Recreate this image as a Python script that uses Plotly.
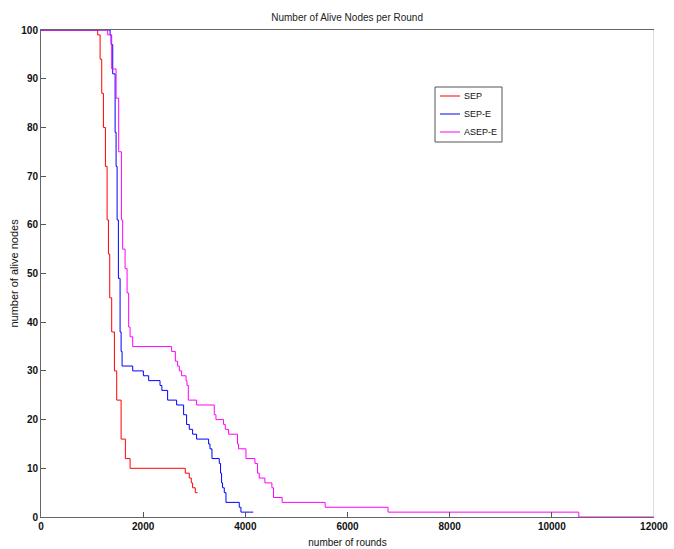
import plotly.graph_objects as go

# ---- data ----
sep_rounds = [0, 1110, 1157, 1189, 1222, 1261, 1294, 1320, 1345, 1384, 1437, 1482, 1568, 1652,
              1744, 2825, 2903, 2942, 2968, 3020, 3066]
sep_alive = [100, 99, 94, 87, 80, 72, 61, 54, 45, 38, 30, 24, 16, 12,
             10, 9, 8, 7, 6, 5, 5]

sepe_rounds = [0, 1353, 1372, 1404, 1451, 1470, 1490, 1515, 1548, 1568, 1587, 1795, 2004, 2108,
               2330, 2366, 2479, 2655, 2792, 2850, 2903, 2968, 3046, 3281, 3308, 3347, 3490,
               3515, 3535, 3554, 3588, 3621, 3881, 3914, 4154]
sepe_alive = [100, 99, 97, 91, 79, 72, 61, 49, 38, 34, 31, 30, 29, 28,
              27, 26, 24, 23, 21, 19, 18, 17, 16, 15, 14, 12, 11,
              9, 7, 6, 5, 3, 2, 1, 1]

asepe_rounds = [0, 1306, 1384, 1470, 1521, 1574, 1599, 1646, 1685, 1716, 1744, 1795, 2557, 2630,
                2674, 2708, 2753, 2839, 2858, 2884, 3046, 3392, 3425, 3574, 3607, 3672, 3847,
                3867, 4012, 4188, 4239, 4272, 4383, 4520, 4551, 4721, 5562, 6794, 10528, 12000]
asepe_alive = [100, 99, 92, 86, 75, 61, 55, 51, 46, 39, 37, 35, 34, 32,
               31, 30, 29, 28, 27, 24, 23, 21, 20, 19, 18, 17, 15,
               14, 12, 11, 9, 8, 7, 6, 4, 3, 2, 1, 0, 0]

x_ticks = [0, 2000, 4000, 6000, 8000, 10000, 12000]
y_ticks = [0, 10, 20, 30, 40, 50, 60, 70, 80, 90, 100]

series = [
    ("SEP", sep_rounds, sep_alive, "#ff0000"),
    ("SEP-E", sepe_rounds, sepe_alive, "#0000ff"),
    ("ASEP-E", asepe_rounds, asepe_alive, "#ff00ff"),
]

FONT = "Liberation Sans Narrow, Arial Narrow, Liberation Sans, Arial, sans-serif"

W, H = 674, 549
ML, MR, MT, MB = 41, 20, 30, 32
PW, PH = W - ML - MR, H - MT - MB


def px2paper(xp, yp):
    return (xp - ML) / PW, (H - MB - yp) / PH


fig = go.Figure()
for name, xs, ys, col in series:
    fig.add_trace(go.Scatter(x=xs, y=ys, mode="lines", name=name, showlegend=False,
                             line=dict(color=col, width=1, shape="hv")))

fig.update_layout(
    width=W, height=H,
    margin=dict(l=ML, r=MR, t=MT, b=MB, autoexpand=False),
    paper_bgcolor="white", plot_bgcolor="white",
    title=dict(text="Number of Alive Nodes per Round", x=0.515, xanchor="center",
               y=0.968, yanchor="middle", automargin=False,
               font=dict(family=FONT, size=10, color="#222")),
    showlegend=False,
    font=dict(family=FONT, color="#111"),
)

fig.update_xaxes(
    range=[0, 12000], tickvals=x_ticks, ticktext=[str(v) for v in x_ticks],
    ticks="inside", ticklen=5, tickcolor="#555", automargin=False,
    showline=True, linecolor="#666", linewidth=1, mirror=True,
    showgrid=False, zeroline=False,
    tickfont=dict(family=FONT, size=10, color="#111", weight="bold"),
    title=dict(text="number of rounds", font=dict(family=FONT, size=10, color="#111"), standoff=7),
)
fig.update_yaxes(
    range=[0, 100], tickvals=y_ticks, ticktext=[str(v) for v in y_ticks],
    ticks="inside", ticklen=5, tickcolor="#555", automargin=False,
    showline=True, linecolor="#666", linewidth=1, mirror=False,
    showgrid=False, zeroline=False,
    tickfont=dict(family=FONT, size=10, color="#111", weight="bold"),
    title=dict(text="number of alive nodes",
               font=dict(family="Liberation Sans, Arial, sans-serif", size=11, color="#111"),
               standoff=0),
)

fig.add_shape(type="line", xref="x", yref="paper", x0=12000, x1=12000, y0=0, y1=1,
              line=dict(color="#bbbbbb", width=1))

# ---- legend box drawn by hand to match the reference's compact box ----
bx0, by0 = px2paper(435, 87)
bx1, by1 = px2paper(502, 142)
fig.add_shape(type="rect", xref="paper", yref="paper", x0=bx0, y0=by1, x1=bx1, y1=by0,
              line=dict(color="#555", width=1), fillcolor="white", layer="above")
for i, (name, _, _, col) in enumerate(series):
    yp = 96 + 18 * i
    lx0, ly = px2paper(440, yp)
    lx1, _ = px2paper(460, yp)
    tx, _ = px2paper(462, yp)
    fig.add_shape(type="line", xref="paper", yref="paper", x0=lx0, x1=lx1, y0=ly, y1=ly,
                  line=dict(color=col, width=1), layer="above")
    fig.add_annotation(xref="paper", yref="paper", x=tx, y=ly, text=name, showarrow=False,
                       xanchor="left", yanchor="middle",
                       font=dict(family=FONT, size=9, color="#111"))

fig.write_html("out.html", config={"displayModeBar": False},
               post_script="document.body.style.margin='0px';document.body.style.padding='0px';")
